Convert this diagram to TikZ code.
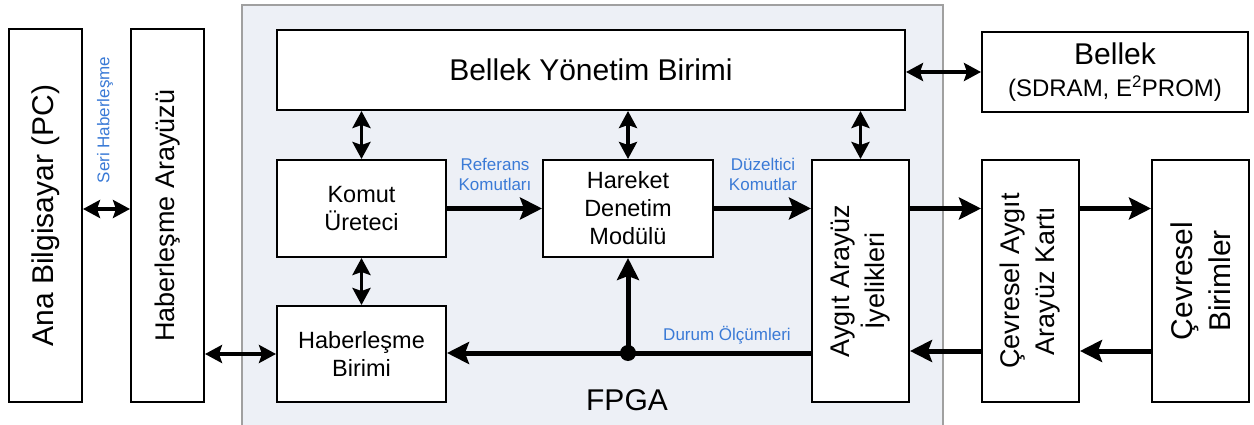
\documentclass[tikz,border=0pt]{standalone}
\usepackage{fontspec}
\setmainfont{Liberation Sans}
\usetikzlibrary{arrows.meta}
\definecolor{fpgafill}{RGB}{237,240,246}
\definecolor{fpgaedge}{RGB}{160,160,160}
\definecolor{labelblue}{RGB}{58,122,214}
\tikzset{
  blockbox/.style={draw=black, line width=2pt, fill=white, inner sep=0pt},
  bigtext/.style={font=\fontsize{30}{38}\selectfont, align=center, inner sep=0pt},
  midtext/.style={font=\fontsize{27}{35}\selectfont, align=center, inner sep=0pt},
  smalltext/.style={font=\fontsize{23.5}{28}\selectfont, align=center, inner sep=0pt},
  siglabel/.style={text=labelblue, font=\fontsize{17}{20}\selectfont, align=center, inner sep=0pt},
  biarrow/.style={line width=3.5pt,
    {Stealth[length=17pt,width=18pt,inset=3pt]}-{Stealth[length=17pt,width=18pt,inset=3pt]}},
  flowarrow/.style={line width=5pt, -{Stealth[length=22pt,width=22pt,inset=4pt]}},
}
\begin{document}
\begin{tikzpicture}[x=1pt,y=-1pt]
\clip (0,0) rectangle (1254,425);
\useasboundingbox (0,0) rectangle (1254,425);

% FPGA region
\draw[fill=fpgafill, draw=fpgaedge, line width=2pt] (242,5) rectangle (943,440);
\node[bigtext] (fpga) at (627,400) {FPGA};

% external blocks on the left
\node[blockbox, minimum width=73pt, minimum height=373pt] (pc) at (45.5,215.5) {};
\node[bigtext, rotate=90] (pctext) at (pc) {Ana Bilgisayar (PC)};
\node[blockbox, minimum width=73pt, minimum height=373pt] (hai) at (167.5,215.5) {};
\node[midtext, rotate=90] (haitext) at (hai) {Haberleşme Arayüzü};
\node[siglabel, rotate=90] (seri) at (105,120) {Seri Haberleşme};

% blocks inside the FPGA
\node[blockbox, minimum width=628pt, minimum height=80pt, bigtext] (byb) at (591,70) {Bellek Yönetim Birimi};
\node[blockbox, minimum width=169pt, minimum height=97pt, smalltext] (komut) at (361.5,208.5) {Komut\\Üreteci};
\node[blockbox, minimum width=170pt, minimum height=97pt, smalltext] (hdm) at (628,208.5) {Hareket\\Denetim\\Modülü};
\node[blockbox, minimum width=169pt, minimum height=96pt, smalltext] (habbir) at (361.5,354) {Haberleşme\\Birimi};
\node[blockbox, minimum width=97pt, minimum height=242pt] (aygit) at (860.5,281) {};
\node[midtext, rotate=90] (aygittext) at (aygit) {Aygıt Arayüz\\İyelikleri};

% external blocks on the right
\node[blockbox, minimum width=266pt, minimum height=80pt, align=center,
      font=\fontsize{24}{32}\selectfont] (bellek) at (1115,72)
      {{\fontsize{30}{32}\selectfont Bellek}\\(SDRAM, E\textsuperscript{2}PROM)};
\node[blockbox, minimum width=97pt, minimum height=242pt] (cak) at (1030.5,281) {};
\node[midtext, rotate=90] (caktext) at (cak) {Çevresel Aygıt\\Arayüz Kartı};
\node[blockbox, minimum width=97pt, minimum height=242pt] (cb) at (1200.5,281) {};
\node[bigtext, rotate=90] (cbtext) at (cb) {Çevresel\\Birimler};

% two-way links
\draw[biarrow] (pc.east |- 0,209) -- (hai.west |- 0,209);
\draw[biarrow] (hai.east |- habbir) -- (habbir.west);
\draw[biarrow] (byb.east |- 0,72) -- (bellek.west |- 0,72);
\draw[biarrow] (byb.south -| komut) -- (komut.north);
\draw[biarrow] (byb.south -| hdm) -- (hdm.north);
\draw[biarrow] (byb.south -| aygit) -- (aygit.north);
\draw[biarrow] (komut.south) -- (habbir.north);

% command path
\draw[flowarrow] (komut.east) -- (hdm.west);
\draw[flowarrow] (hdm.east) -- (hdm.east -| aygit.west);
\draw[flowarrow] (aygit.east |- 0,208.5) -- (cak.west |- 0,208.5);
\draw[flowarrow] (cak.east |- 0,208.5) -- (cb.west |- 0,208.5);

% feedback path
\draw[flowarrow] (cb.west |- 0,351) -- (cak.east |- 0,351);
\draw[flowarrow] (cak.west |- 0,351) -- (aygit.east |- 0,351);
\node[circle, fill=black, minimum size=16pt, inner sep=0pt] (tap) at (hdm.south |- 0,353) {};
\draw[flowarrow] (aygit.west |- tap) -- (habbir.east |- tap);
\draw[flowarrow] (tap.center) -- (hdm.south);

% signal labels
\node[siglabel] (ref) at (495,174) {Referans\\Komutları};
\node[siglabel] (duz) at (763,174) {Düzeltici\\Komutlar};
\node[siglabel] (durum) at (727,335) {Durum Ölçümleri};
\end{tikzpicture}
\end{document}
